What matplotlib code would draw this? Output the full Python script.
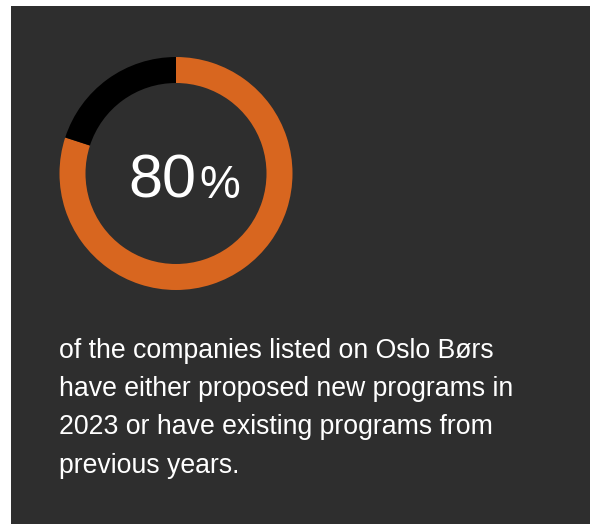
import matplotlib
matplotlib.use("Agg")
import matplotlib.pyplot as plt
from matplotlib.patches import Rectangle

# share of listed companies with programs
shares = [80, 20]
share_colors = ["#d8661f", "#000000"]
headline = "80"
caption_lines = [
    "of the companies listed on Oslo Børs",
    "have either proposed new programs in",
    "2023 or have existing programs from",
    "previous years.",
]

W, H = 590, 524
BG = "#2e2e2e"

fig = plt.figure(figsize=(W / 100, H / 100), dpi=100)
fig.patch.set_facecolor("white")
ax = fig.add_axes([0, 0, 1, 1])

# dark card
ax.add_patch(Rectangle((11, 0), W - 11, H - 6, facecolor=BG, edgecolor="none", zorder=0))

# donut ring
cx, cy = 176, H - 173.5
ax.pie(shares, colors=share_colors, startangle=90, counterclock=False,
       radius=116.5, center=(cx, cy), frame=True,
       wedgeprops=dict(width=26, edgecolor="none", linewidth=0))
ax.set_xlim(0, W)
ax.set_ylim(0, H)
ax.set_aspect("equal")
ax.axis("off")

font = "Liberation Sans"
ax.text(cx + 20, H - 198, headline, ha="right", va="baseline", color="white",
        fontsize=44, family=font)
ax.text(cx + 23, H - 198, "%", ha="left", va="baseline", color="white",
        fontsize=33, family=font)

base = H - 357.7
for i, line in enumerate(caption_lines):
    ax.text(59, base - i * 38.3, line, ha="left", va="baseline", color="white",
            fontsize=19.2, family=font)

fig.savefig("out.png", dpi=100, facecolor=fig.get_facecolor())
